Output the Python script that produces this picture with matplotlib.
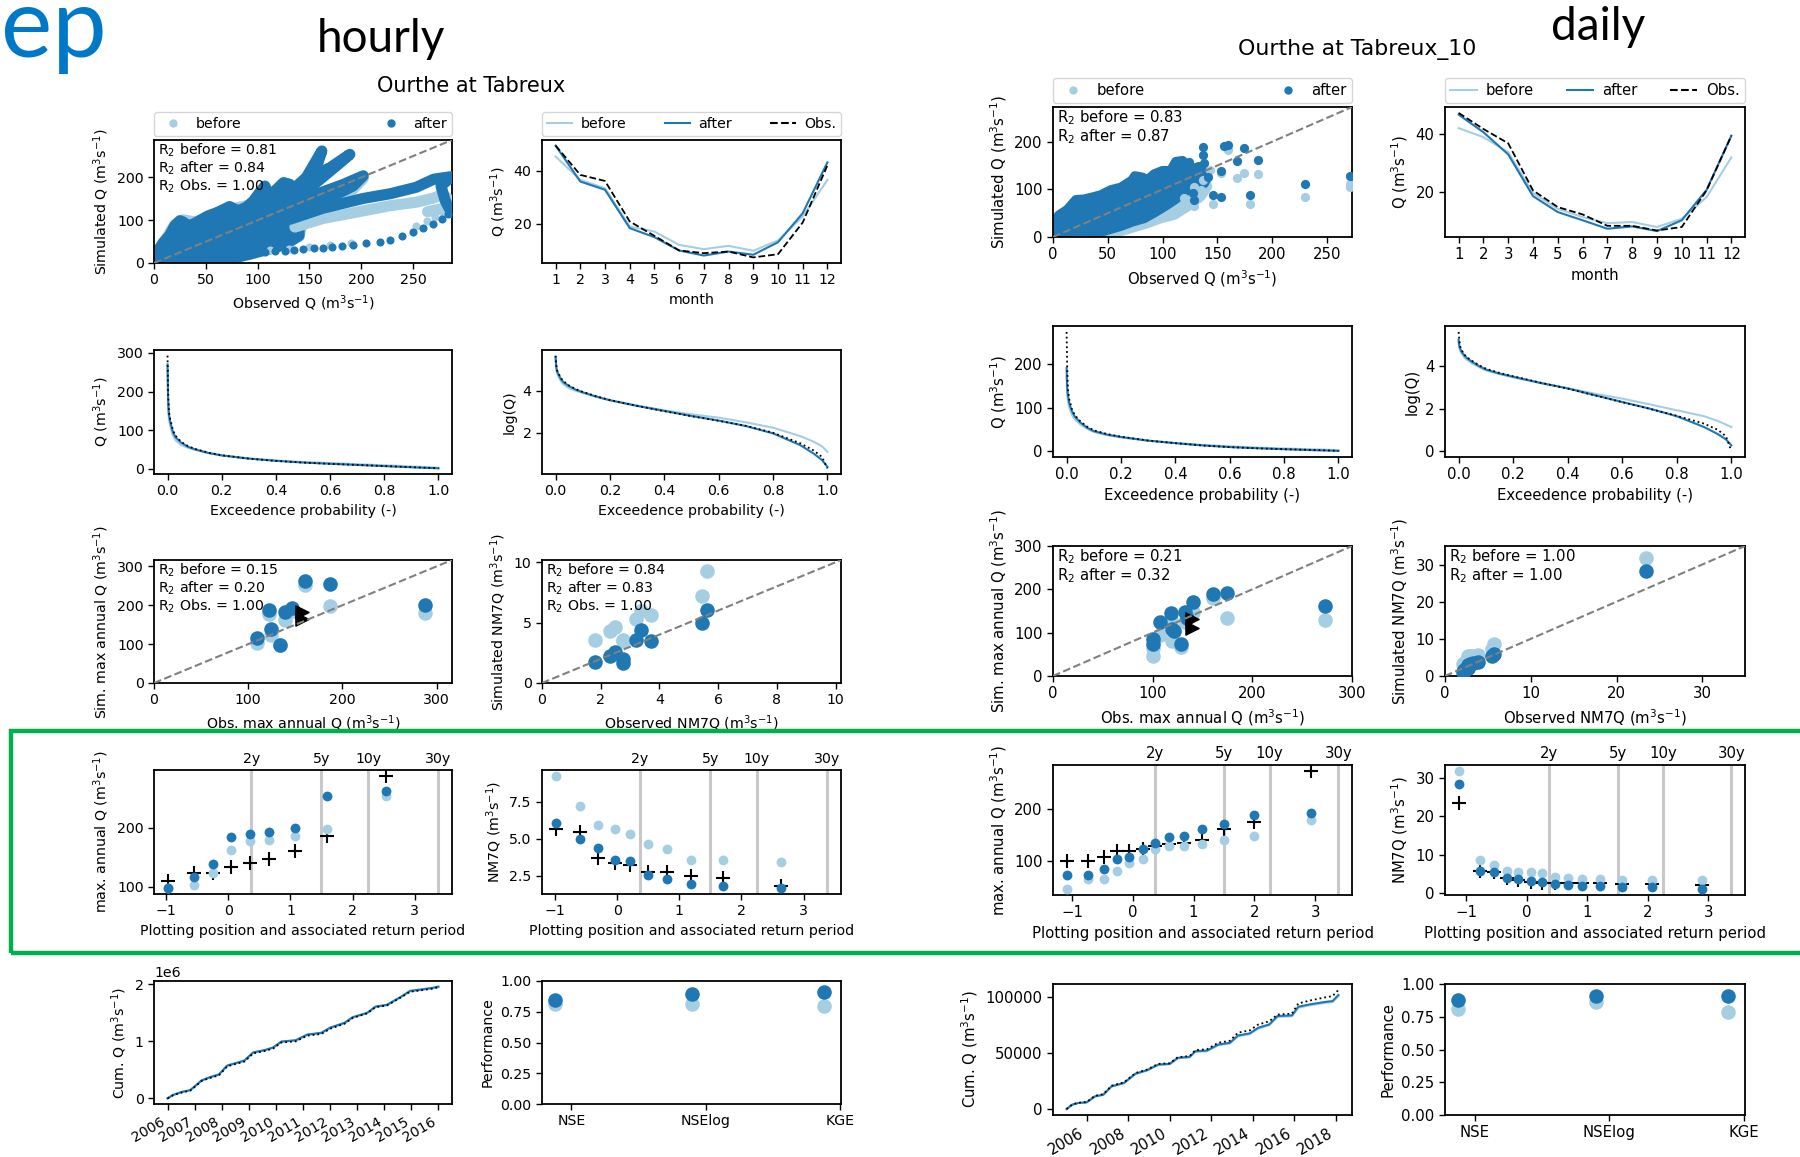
import numpy as np
import matplotlib
matplotlib.use("Agg")
import matplotlib.pyplot as plt
import matplotlib.dates as mdates
from matplotlib.patches import Rectangle, Polygon
from matplotlib.lines import Line2D

W, H, DPI = 1800, 1157, 100
C_BEFORE = "#a6cee3"
C_AFTER = "#1f78b4"
C_OBS = "black"
UNIT = "(m$^3$s$^{-1}$)"

# ---------------- monthly means ----------------
months = list(range(1, 13))
hr_month_obs = [49.4, 38.4, 36.1, 20.9, 15.5, 10.0, 9.0, 9.6, 7.4, 8.6, 20.5, 42.0]
hr_month_after = [49.4, 35.9, 32.8, 18.4, 15.0, 10.0, 8.1, 9.6, 8.4, 13.1, 24.0, 43.1]
hr_month_before = [45.3, 36.5, 33.4, 19.0, 17.1, 12.1, 10.5, 11.75, 9.9, 13.75, 22.75, 36.5]
dy_month_obs = [47.2, 41.7, 36.8, 20.7, 15.0, 12.5, 8.6, 8.6, 7.0, 8.2, 20.7, 39.4]
dy_month_after = [46.6, 40.6, 33.0, 18.75, 13.3, 10.5, 7.6, 8.4, 6.8, 10.5, 20.9, 39.4]
dy_month_before = [42.0, 38.9, 33.75, 19.8, 14.4, 11.6, 9.5, 9.9, 8.2, 11.0, 18.4, 32.0]

# ---------------- flow duration curves (natural log of Q) ----------------
fdc_p = [0, 0.002, 0.005, 0.01, 0.02, 0.03, 0.05, 0.075, 0.1, 0.15, 0.2, 0.3, 0.4,
         0.5, 0.6, 0.7, 0.8, 0.9, 0.95, 0.98, 1.0]
hr_fdc_obs = [5.68, 5.30, 5.00, 4.85, 4.60, 4.45, 4.25, 4.08, 3.95, 3.74, 3.56, 3.28, 3.03,
              2.79, 2.57, 2.33, 2.00, 1.50, 1.15, 0.85, 0.30]
hr_fdc_after = [5.60, 5.20, 4.95, 4.80, 4.55, 4.40, 4.22, 4.05, 3.93, 3.72, 3.55, 3.28, 3.04,
                2.80, 2.58, 2.32, 1.97, 1.41, 1.00, 0.70, 0.37]
hr_fdc_before = [5.55, 5.10, 4.85, 4.70, 4.45, 4.30, 4.12, 4.00, 3.90, 3.72, 3.55, 3.30, 3.07,
                 2.88, 2.72, 2.50, 2.24, 1.84, 1.57, 1.35, 1.09]
dy_fdc_obs = [5.61, 5.30, 4.95, 4.78, 4.56, 4.42, 4.24, 4.04, 3.88, 3.68, 3.52, 3.22, 2.94,
              2.62, 2.30, 1.99, 1.66, 1.29, 1.00, 0.70, 0.00]
dy_fdc_after = [5.25, 5.00, 4.85, 4.70, 4.52, 4.38, 4.20, 4.00, 3.84, 3.65, 3.50, 3.21, 2.95,
                2.63, 2.31, 2.00, 1.64, 1.13, 0.80, 0.55, 0.27]
dy_fdc_before = [5.15, 4.90, 4.75, 4.60, 4.42, 4.30, 4.12, 3.95, 3.80, 3.62, 3.47, 3.20, 2.96,
                 2.70, 2.47, 2.20, 1.92, 1.64, 1.42, 1.25, 1.13]

# ---------------- annual maxima ----------------
hr_amax_obs = [109.6, 122.6, 123.7, 133.9, 139.5, 146.9, 160.5, 186.4, 287.6]
hr_amax_after = [117.0, 188.7, 138.4, 98.3, 183.6, 192.0, 262.0, 253.7, 199.4]
hr_amax_before = [102.8, 178.0, 122.6, 97.2, 162.1, 186.4, 252.5, 197.7, 179.0]
hr_amax_pos = [-0.98, -0.56, -0.25, 0.05, 0.35, 0.66, 1.07, 1.59, 2.54]

dy_amax_obs = [100.0, 100.5, 107.6, 119.0, 119.5, 122.0, 129.0, 133.0, 135.0, 141.0, 160.5, 174.5, 273.0]
dy_amax_after = [73.2, 85.4, 123.6, 146.5, 108.3, 104.5, 73.2, 147.8, 135.0, 171.3, 189.2, 192.4, 161.8]
dy_amax_before = [45.9, 65.0, 95.5, 128.7, 80.3, 104.5, 66.2, 123.6, 139.5, 147.8, 179.6, 133.1, 128.7]
dy_amax_pos = [-1.09, -0.74, -0.48, -0.26, -0.06, 0.16, 0.37, 0.59, 0.85, 1.14, 1.50, 2.00, 2.93]

# ---------------- NM7Q (annual 7-day low flow) ----------------
hr_nm7_obs = [5.63, 5.45, 3.71, 3.37, 3.21, 2.76, 2.76, 2.50, 2.32, 1.82]
hr_nm7_after = [6.04, 4.95, 3.51, 4.39, 3.56, 1.96, 1.64, 2.55, 2.27, 1.78]
hr_nm7_before = [9.26, 7.23, 5.66, 5.95, 5.29, 3.54, 3.45, 4.64, 4.32, 3.58]
hr_nm7_pos = [-0.99, -0.59, -0.30, -0.04, 0.21, 0.50, 0.81, 1.19, 1.71, 2.64]

dy_nm7_obs = [23.4, 5.7, 5.5, 3.9, 3.3, 2.9, 2.7, 2.7, 2.65, 2.5, 2.5, 2.3, 2.2, 2.05]
dy_nm7_after = [28.3, 5.8, 5.5, 3.9, 3.5, 3.1, 2.9, 2.2, 2.05, 1.8, 1.8, 1.6, 1.5, 1.0]
dy_nm7_before = [31.8, 8.7, 7.2, 5.6, 5.5, 5.5, 5.3, 4.2, 3.9, 3.6, 3.6, 3.4, 3.4, 3.3]
dy_nm7_pos = [-1.13, -0.78, -0.54, -0.33, -0.14, 0.06, 0.25, 0.47, 0.68, 0.91, 1.21, 1.57, 2.07, 2.90]

rp_years = [2, 5, 10, 30]
rp_labels = ["2y", "5y", "10y", "30y"]

# ---------------- cumulative discharge ----------------
hr_cum_dates = ["2006-01-01", "2006-03-15", "2006-07-15", "2006-11-01", "2007-01-20", "2007-04-05",
                "2007-08-01", "2007-11-25", "2008-03-15", "2008-06-01", "2008-11-01", "2009-03-01",
                "2009-08-01", "2009-11-25", "2010-03-15", "2010-09-25", "2011-03-01", "2011-09-05",
                "2012-01-01", "2012-07-15", "2012-11-01", "2013-05-15", "2013-09-05", "2014-02-05",
                "2014-08-20", "2014-12-15", "2015-05-15", "2015-10-20", "2016-01-01"]
hr_cum_after = [0.0, 0.06, 0.115, 0.144, 0.23, 0.317, 0.375, 0.42, 0.576, 0.605, 0.663, 0.807,
                0.847, 0.893, 0.997, 1.02, 1.12, 1.15, 1.24, 1.326, 1.424, 1.50, 1.61, 1.64,
                1.787, 1.885, 1.91, 1.94, 1.96]
hr_cum_before = [0.0, 0.058, 0.112, 0.142, 0.226, 0.312, 0.37, 0.415, 0.57, 0.6, 0.657, 0.8,
                 0.84, 0.886, 0.99, 1.012, 1.112, 1.142, 1.232, 1.318, 1.416, 1.492, 1.60, 1.632,
                 1.778, 1.876, 1.9, 1.93, 1.95]
hr_cum_obs = [0.0, 0.055, 0.105, 0.135, 0.22, 0.305, 0.36, 0.405, 0.56, 0.59, 0.645, 0.79,
              0.83, 0.875, 0.98, 1.0, 1.10, 1.13, 1.22, 1.31, 1.41, 1.49, 1.60, 1.63,
              1.775, 1.87, 1.895, 1.925, 1.95]

dy_cum_dates = ["2005-01-12", "2005-04-20", "2005-08-01", "2006-01-01", "2006-05-25", "2006-10-20",
                "2007-03-15", "2007-10-20", "2008-05-08", "2008-11-25", "2009-06-15", "2010-01-01",
                "2010-05-25", "2010-12-20", "2011-03-28", "2011-10-20", "2012-05-08", "2012-11-25",
                "2013-04-20", "2013-11-10", "2014-04-08", "2014-10-20", "2015-03-15", "2015-11-25",
                "2016-03-15", "2016-10-01", "2017-06-15", "2017-11-10", "2018-02-20"]
dy_cum_after = [0, 3.9, 5.4, 6.0, 11.3, 12.8, 20.3, 23.3, 31.6, 34.6, 39.7, 40.3, 45.7, 46.6,
                51.6, 52.2, 57.6, 59.1, 65.7, 67.5, 72.5, 75.5, 83.0, 83.6, 91.3, 93.4, 95.5,
                96.4, 101.8]
dy_cum_before = [0, 3.8, 5.3, 5.9, 11.1, 12.6, 20.0, 23.0, 31.2, 34.2, 39.3, 39.9, 45.2, 46.1,
                 51.0, 51.6, 57.0, 58.5, 65.0, 66.8, 71.8, 74.8, 82.2, 82.8, 90.4, 92.5, 94.6,
                 95.5, 100.8]
dy_cum_obs = [0, 4.0, 5.6, 6.3, 11.8, 13.3, 20.8, 23.9, 32.1, 35.2, 40.3, 40.9, 46.3, 47.3,
              52.5, 53.4, 59.2, 60.9, 68.2, 70.2, 75.4, 78.3, 84.3, 85.2, 94.2, 96.8, 99.5,
              100.9, 106.3]

# ---------------- performance ----------------
metrics = ["NSE", "NSElog", "KGE"]
hr_perf_before = [0.81, 0.816, 0.80]
hr_perf_after = [0.843, 0.892, 0.91]
dy_perf_before = [0.81, 0.86, 0.79]
dy_perf_after = [0.875, 0.905, 0.91]

# ---------------- hourly scatter of simulated vs observed Q ----------------
hr_sc_after_cloud = [(0, 0), (1, 17), (9, 48), (15, 64), (20, 87), (25, 99), (28, 96), (33, 87),
                     (38, 91), (44, 99), (52, 110), (60, 117), (68, 126), (73, 132), (81, 122),
                     (89, 130), (96, 145), (102, 165), (107, 180), (112, 153), (117, 169),
                     (125, 188), (131, 184), (140, 118), (140, 64), (131, 50), (118, 37),
                     (105, 29), (93, 21), (76, 11), (60, 5), (44, 0)]
hr_sc_after_tracks = [
    [(102, 130), (131, 165), (147, 200), (162, 262), (154, 204), (170, 223), (189, 254),
     (176, 227), (147, 169), (131, 142)],
    [(125, 118), (157, 161), (183, 184), (202, 204), (192, 180), (170, 153), (144, 122)],
    [(131, 102), (163, 128), (202, 151), (228, 162), (253, 177), (270, 196), (287, 202),
     (277, 180), (281, 146), (287, 118)],
]
hr_sc_after_x = [107, 117, 126, 135, 144, 154, 163, 172, 181, 192, 205, 218, 228, 239, 250, 260,
                 269.5, 277.5, 284]
hr_sc_after_y = [26.5, 27, 29, 30, 33, 34, 36, 38, 40.5, 42, 47, 48, 54.5, 64, 73, 82.5, 91,
                 103, 114]
hr_sc_before_cloud = [(0, 0), (1, 20), (10, 50), (20, 90), (28, 101), (40, 96), (55, 108),
                      (75, 126), (100, 140), (125, 150), (145, 112), (140, 62), (120, 38),
                      (95, 22), (70, 9), (50, 0)]
hr_sc_before_tracks = [
    [(136, 84), (163, 104), (202, 122), (228, 134), (253, 142), (270, 152), (279, 161), (286, 145)],
    [(170, 150), (192, 172), (202, 198)],
    [(264, 120), (280, 128), (287, 140)],
]
hr_sc_before_x = [253, 263, 271, 279, 112, 130, 150, 170, 190]
hr_sc_before_y = [87, 99, 107, 117, 30, 33, 37, 41, 46]

# ---------------- daily scatter of simulated vs observed Q ----------------
dy_sc_after_cloud = [(0, 1), (1.5, 32), (5.5, 46), (13, 57), (21, 78), (28, 79), (34.5, 82.5),
                     (43.6, 88), (52.7, 98.6), (62, 104), (72.6, 119.6), (74.7, 128), (81.7, 125),
                     (86.3, 119.6), (92.4, 132), (100, 139), (107.6, 139), (112.2, 158),
                     (118.3, 160), (123, 147.6), (129, 144), (133.5, 147.6), (141, 126.6),
                     (138, 112.6), (130.5, 107), (123, 98.6), (116.8, 88), (110.7, 77.6),
                     (101.5, 63.6), (92.4, 51), (83.2, 39.2), (72.6, 32.2), (62, 23), (49.7, 14.7),
                     (40.5, 7.7), (34.5, 1)]
dy_sc_before_cloud = [(0, 1), (2, 28), (13, 52), (30, 74), (60, 98), (90, 118), (112, 140),
                      (135, 135), (141, 106), (135, 85), (123, 64), (110.7, 46), (98.5, 39),
                      (86.3, 28.7), (71, 18), (55.8, 7.7), (46.6, 1)]
dy_sc_after_x = [271, 230, 187.5, 174.7, 168, 159.5, 156.4, 136.6, 136.6, 153.4, 145.7, 153.4,
                 180.2, 129, 127.4, 141.2, 133.5, 138, 124.4, 119]
dy_sc_after_y = [129, 111, 161.5, 186, 159, 193, 191.6, 189.5, 172, 138.5, 88, 84.6, 88, 77.6,
                 93, 125, 147.5, 154.5, 158, 137]
dy_sc_before_x = [271, 271, 230, 187.5, 174.7, 168, 159.5, 145.7, 180.2, 136.6, 129, 119.8,
                  153.4, 143.6, 135, 128.4]
dy_sc_before_y = [104, 112, 84.6, 132, 135, 123, 182.5, 69, 69, 119.6, 65, 81, 135, 140.6,
                  98.6, 104]

fig = plt.figure(figsize=(W / DPI, H / DPI), dpi=DPI)
fig.patch.set_facecolor("white")


def px_axes(l, t, r, b):
    return fig.add_axes([l / W, 1 - b / H, (r - l) / W, (b - t) / H])


def style(ax, fs):
    ax.tick_params(labelsize=fs, width=1.0, length=4)
    for s in ax.spines.values():
        s.set_linewidth(1.3)
    ax.xaxis.label.set_size(fs)
    ax.yaxis.label.set_size(fs)


def r2_text(ax, lines, fs):
    ax.text(0.012, 0.99, "\n".join(lines), transform=ax.transAxes, va="top", ha="left",
            fontsize=fs, linespacing=1.05, zorder=10)


def one_to_one(ax, lim):
    ax.plot([0, lim], [0, lim], ls="--", color="gray", lw=1.5, zorder=8)
    ax.set_xlim(0, lim)
    ax.set_ylim(0, lim)


def cloud(ax, verts, color, lw):
    ax.add_patch(Polygon(verts, closed=True, facecolor=color, edgecolor=color, lw=lw,
                         joinstyle="round", zorder=2))


def tracks(ax, lines, color, lw):
    for tr in lines:
        xs, ys = zip(*tr)
        ax.plot(xs, ys, color=color, lw=lw, solid_capstyle="round",
                solid_joinstyle="round", zorder=3)


def scatter_legend(ax, fs, gap):
    h = [Line2D([], [], ls="", marker="o", color=C_BEFORE, markersize=5),
         Line2D([], [], ls="", marker="o", color=C_AFTER, markersize=5)]
    ax.legend(h, ["before", "after"], loc="lower left", bbox_to_anchor=(0, 1 + gap, 1, 0.2),
              mode="expand", ncol=2, fontsize=fs, borderaxespad=0, handletextpad=0.6,
              borderpad=0.35)


def line_legend(ax, fs, gap):
    h = [Line2D([], [], color=C_BEFORE, lw=1.5), Line2D([], [], color=C_AFTER, lw=1.5),
         Line2D([], [], color=C_OBS, lw=1.5, ls="--")]
    ax.legend(h, ["before", "after", "Obs."], loc="lower left", bbox_to_anchor=(0, 1 + gap, 1, 0.2),
              mode="expand", ncol=3, fontsize=fs, borderaxespad=0, handletextpad=0.6,
              borderpad=0.35, handlelength=1.8)


def monthly(ax, obs, before, after, fs):
    ax.plot(months, before, color=C_BEFORE, lw=1.5)
    ax.plot(months, after, color=C_AFTER, lw=1.5)
    ax.plot(months, obs, color=C_OBS, lw=1.3, ls="--")
    ax.set_xticks(months)
    ax.set_xlabel("month")
    ax.set_ylabel("Q " + UNIT)
    style(ax, fs)


def fdc(ax_lin, ax_log, obs, before, after, fs):
    for ax, tf in ((ax_lin, np.exp), (ax_log, lambda v: v)):
        ax.plot(fdc_p, tf(np.array(before)), color=C_BEFORE, lw=1.5)
        ax.plot(fdc_p, tf(np.array(after)), color=C_AFTER, lw=1.5)
        ax.plot(fdc_p, tf(np.array(obs)), color=C_OBS, lw=1.3, ls=":")
        ax.set_xlabel("Exceedence probability (-)")
        ax.set_xticks([0, 0.2, 0.4, 0.6, 0.8, 1.0])
        style(ax, fs)
    ax_lin.set_ylabel("Q " + UNIT)
    ax_log.set_ylabel("log(Q)")


def extremes_scatter(ax, obs, before, after, fs, mean_marker):
    lim = 1.1 * max(max(obs), max(before), max(after))
    ax.scatter(obs, before, s=110, color=C_BEFORE, zorder=3, linewidths=0)
    ax.scatter(obs, after, s=110, color=C_AFTER, zorder=4, linewidths=0)
    if mean_marker:
        mo = np.mean(obs)
        ax.scatter([mo, mo], [np.mean(before), np.mean(after)], marker=">", s=90, color="black",
                   zorder=6)
    one_to_one(ax, lim)
    style(ax, fs)


def return_period(ax, pos, obs, before, after, fs, descending, ylabel):
    s_obs = sorted(obs, reverse=descending)
    s_bef = sorted(before, reverse=descending)
    s_aft = sorted(after, reverse=descending)
    ax.scatter(pos, s_obs, marker="+", s=90, color="black", linewidths=1.5, zorder=3)
    ax.scatter(pos, s_bef, s=50, color=C_BEFORE, zorder=4, linewidths=0)
    ax.scatter(pos, s_aft, s=50, color=C_AFTER, zorder=5, linewidths=0)
    rp_pos = [-np.log(-np.log(1 - 1 / t)) for t in rp_years]
    for xp in rp_pos:
        ax.axvline(xp, color="#c8c8c8", lw=2.2, zorder=1)
    lo, hi = min(pos), max(max(pos), rp_pos[-1])
    m = 0.05 * (hi - lo)
    ax.set_xlim(lo - m, hi + m)
    ax.set_xticks([-1, 0, 1, 2, 3])
    ax.set_xlabel("Plotting position and associated return period")
    ax.set_ylabel(ylabel)
    style(ax, fs)
    top = ax.twiny()
    top.set_xlim(ax.get_xlim())
    top.set_xticks(rp_pos)
    top.set_xticklabels(rp_labels)
    top.tick_params(length=0, labelsize=fs, pad=3)
    for s in top.spines.values():
        s.set_visible(False)


def cumulative(ax, dates, obs, before, after, scale, fs, step):
    d = np.array(dates, dtype="datetime64[D]")
    ax.plot(d, np.array(before) * scale, color=C_BEFORE, lw=1.5)
    ax.plot(d, np.array(after) * scale, color=C_AFTER, lw=1.5)
    ax.plot(d, np.array(obs) * scale, color=C_OBS, lw=1.3, ls=":")
    ax.xaxis.set_major_locator(mdates.YearLocator(step))
    ax.xaxis.set_major_formatter(mdates.DateFormatter("%Y"))
    for lab in ax.get_xticklabels():
        lab.set_rotation(30)
        lab.set_ha("right")
    ax.set_ylabel("Cum. Q " + UNIT)
    style(ax, fs)
    ax.yaxis.get_offset_text().set_size(fs)


def performance(ax, before, after, fs):
    xs = [-0.12, 0.9, 1.88]
    ax.scatter(xs, before, s=110, color=C_BEFORE, linewidths=0, zorder=3)
    ax.scatter(xs, after, s=110, color=C_AFTER, linewidths=0, zorder=4)
    ax.set_xticks([0, 1, 2])
    ax.set_xticklabels(metrics)
    ax.set_xlim(-0.22, 2.01)
    ax.set_ylim(0, 1)
    ax.set_yticks([0, 0.25, 0.5, 0.75, 1.0])
    ax.set_ylabel("Performance")
    style(ax, fs)


# =============== hourly block ===============
fs_h = 10.2
cx1, cx2 = (154, 452), (542, 841)
rows_h = [(140, 263), (350, 474), (560, 683), (770, 894), (981, 1104)]

ax = px_axes(cx1[0], rows_h[0][0], cx1[1], rows_h[0][1])
cloud(ax, hr_sc_before_cloud, C_BEFORE, 8)
tracks(ax, hr_sc_before_tracks, C_BEFORE, 8)
ax.scatter(hr_sc_before_x, hr_sc_before_y, s=34, color=C_BEFORE, linewidths=0, zorder=3)
cloud(ax, hr_sc_after_cloud, C_AFTER, 8)
tracks(ax, hr_sc_after_tracks, C_AFTER, 8)
ax.scatter(hr_sc_after_x, hr_sc_after_y, s=34, color=C_AFTER, linewidths=0, zorder=4)
one_to_one(ax, max(hr_amax_obs))
ax.set_xticks([0, 50, 100, 150, 200, 250])
ax.set_yticks([0, 100, 200])
ax.set_xlabel("Observed Q " + UNIT)
ax.set_ylabel("Simulated Q " + UNIT)
style(ax, fs_h)
r2_text(ax, ["R$_2$ before = 0.81", "R$_2$ after = 0.84", "R$_2$ Obs. = 1.00"], fs_h)
scatter_legend(ax, fs_h, 0.03)

ax = px_axes(cx2[0], rows_h[0][0], cx2[1], rows_h[0][1])
monthly(ax, hr_month_obs, hr_month_before, hr_month_after, fs_h)
line_legend(ax, fs_h, 0.03)

a1 = px_axes(cx1[0], rows_h[1][0], cx1[1], rows_h[1][1])
a2 = px_axes(cx2[0], rows_h[1][0], cx2[1], rows_h[1][1])
fdc(a1, a2, hr_fdc_obs, hr_fdc_before, hr_fdc_after, fs_h)

ax = px_axes(cx1[0], rows_h[2][0], cx1[1], rows_h[2][1])
extremes_scatter(ax, hr_amax_obs, hr_amax_before, hr_amax_after, fs_h, True)
ax.set_xticks([0, 100, 200, 300])
ax.set_yticks([0, 100, 200, 300])
ax.set_xlabel("Obs. max annual Q " + UNIT)
ax.set_ylabel("Sim. max annual Q " + UNIT)
r2_text(ax, ["R$_2$ before = 0.15", "R$_2$ after = 0.20", "R$_2$ Obs. = 1.00"], fs_h)

ax = px_axes(cx2[0], rows_h[2][0], cx2[1], rows_h[2][1])
extremes_scatter(ax, hr_nm7_obs, hr_nm7_before, hr_nm7_after, fs_h, False)
ax.set_xticks([0, 2, 4, 6, 8, 10])
ax.set_yticks([0, 5, 10])
ax.set_xlabel("Observed NM7Q " + UNIT)
ax.set_ylabel("Simulated NM7Q " + UNIT)
r2_text(ax, ["R$_2$ before = 0.84", "R$_2$ after = 0.83", "R$_2$ Obs. = 1.00"], fs_h)

ax = px_axes(cx1[0], rows_h[3][0], cx1[1], rows_h[3][1])
return_period(ax, hr_amax_pos, hr_amax_obs, hr_amax_before, hr_amax_after, fs_h, False,
              "max. annual Q " + UNIT)
ax.set_yticks([100, 200])
ax = px_axes(cx2[0], rows_h[3][0], cx2[1], rows_h[3][1])
return_period(ax, hr_nm7_pos, hr_nm7_obs, hr_nm7_before, hr_nm7_after, fs_h, True,
              "NM7Q " + UNIT)
ax.set_yticks([2.5, 5.0, 7.5])

ax = px_axes(cx1[0], rows_h[4][0], cx1[1], rows_h[4][1])
cumulative(ax, hr_cum_dates, hr_cum_obs, hr_cum_before, hr_cum_after, 1e6, fs_h, 1)
ax.set_yticks([0, 1e6, 2e6])
ax = px_axes(cx2[0], rows_h[4][0], cx2[1], rows_h[4][1])
performance(ax, hr_perf_before, hr_perf_after, fs_h)

# =============== daily block ===============
fs_d = 10.7
dx1, dx2 = (1053, 1352), (1445, 1745)
rows_d = [(107, 237), (326, 457), (546, 676), (765, 895), (984, 1115)]

ax = px_axes(dx1[0], rows_d[0][0], dx1[1], rows_d[0][1])
cloud(ax, dy_sc_before_cloud, C_BEFORE, 7)
ax.scatter(dy_sc_before_x, dy_sc_before_y, s=44, color=C_BEFORE, linewidths=0, zorder=3)
cloud(ax, dy_sc_after_cloud, C_AFTER, 7)
ax.scatter(dy_sc_after_x, dy_sc_after_y, s=44, color=C_AFTER, linewidths=0, zorder=4)
one_to_one(ax, max(dy_amax_obs))
ax.set_xticks([0, 50, 100, 150, 200, 250])
ax.set_yticks([0, 100, 200])
ax.set_xlabel("Observed Q " + UNIT)
ax.set_ylabel("Simulated Q " + UNIT)
style(ax, fs_d)
r2_text(ax, ["R$_2$ before = 0.83", "R$_2$ after = 0.87"], fs_d)
scatter_legend(ax, fs_d, 0.03)

ax = px_axes(dx2[0], rows_d[0][0], dx2[1], rows_d[0][1])
monthly(ax, dy_month_obs, dy_month_before, dy_month_after, fs_d)
line_legend(ax, fs_d, 0.03)

a1 = px_axes(dx1[0], rows_d[1][0], dx1[1], rows_d[1][1])
a2 = px_axes(dx2[0], rows_d[1][0], dx2[1], rows_d[1][1])
fdc(a1, a2, dy_fdc_obs, dy_fdc_before, dy_fdc_after, fs_d)

ax = px_axes(dx1[0], rows_d[2][0], dx1[1], rows_d[2][1])
extremes_scatter(ax, dy_amax_obs, dy_amax_before, dy_amax_after, fs_d, True)
ax.set_xticks([0, 100, 200, 300])
ax.set_yticks([0, 100, 200, 300])
ax.set_xlabel("Obs. max annual Q " + UNIT)
ax.set_ylabel("Sim. max annual Q " + UNIT)
r2_text(ax, ["R$_2$ before = 0.21", "R$_2$ after = 0.32"], fs_d)

ax = px_axes(dx2[0], rows_d[2][0], dx2[1], rows_d[2][1])
extremes_scatter(ax, dy_nm7_obs, dy_nm7_before, dy_nm7_after, fs_d, False)
ax.set_xticks([0, 10, 20, 30])
ax.set_yticks([0, 10, 20, 30])
ax.set_xlabel("Observed NM7Q " + UNIT)
ax.set_ylabel("Simulated NM7Q " + UNIT)
r2_text(ax, ["R$_2$ before = 1.00", "R$_2$ after = 1.00"], fs_d)

ax = px_axes(dx1[0], rows_d[3][0], dx1[1], rows_d[3][1])
return_period(ax, dy_amax_pos, dy_amax_obs, dy_amax_before, dy_amax_after, fs_d, False,
              "max. annual Q " + UNIT)
ax.set_yticks([100, 200])
ax = px_axes(dx2[0], rows_d[3][0], dx2[1], rows_d[3][1])
return_period(ax, dy_nm7_pos, dy_nm7_obs, dy_nm7_before, dy_nm7_after, fs_d, True,
              "NM7Q " + UNIT)
ax.set_yticks([0, 10, 20, 30])

ax = px_axes(dx1[0], rows_d[4][0], dx1[1], rows_d[4][1])
cumulative(ax, dy_cum_dates, dy_cum_obs, dy_cum_before, dy_cum_after, 1e3, fs_d, 2)
ax.set_yticks([0, 50000, 100000])
ax = px_axes(dx2[0], rows_d[4][0], dx2[1], rows_d[4][1])
performance(ax, dy_perf_before, dy_perf_after, fs_d)

# =============== titles and slide annotations ===============
fig.text(471 / W, 1 - 86 / H, "Ourthe at Tabreux", ha="center", va="center", fontsize=15)
fig.text(1357 / W, 1 - 49 / H, "Ourthe at Tabreux_10", ha="center", va="center", fontsize=15.8)
fig.text(317 / W, 1 - 52 / H, "hourly", ha="left", va="baseline", fontsize=33, family="Lato")
fig.text(1551 / W, 1 - 40 / H, "daily", ha="left", va="baseline", fontsize=33, family="Lato")
fig.text(1 / W, 1 - 57 / H, "ep", ha="left", va="baseline", fontsize=70, family="Lato",
         color="#0078c8")

fig.add_artist(Rectangle((11 / W, 1 - 953 / H), (1815 - 11) / W, (953 - 731) / H,
                         transform=fig.transFigure, fill=False, edgecolor="#00b050", lw=3.2,
                         clip_on=False, zorder=20))

fig.savefig("out.png", dpi=DPI, facecolor="white")
